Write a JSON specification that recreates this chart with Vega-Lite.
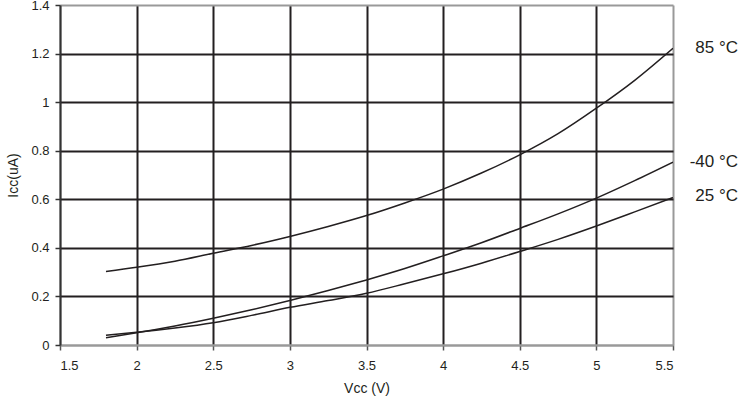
{
  "$schema": "https://vega.github.io/schema/vega-lite/v6.json",
  "autosize": "none",
  "width": 613,
  "height": 340,
  "padding": {"left": 60, "top": 5, "right": 68, "bottom": 59},
  "background": "white",
  "config": {
    "font": "Liberation Sans",
    "view": {"stroke": null}
  },
  "datasets": {
    "curves": [
      {"series": "85", "v": 1.8, "i": 0.303}, {"series": "85", "v": 2.0, "i": 0.32}, {"series": "85", "v": 2.25, "i": 0.345}, {"series": "85", "v": 2.5, "i": 0.378}, {"series": "85", "v": 2.75, "i": 0.41}, {"series": "85", "v": 3.0, "i": 0.447}, {"series": "85", "v": 3.25, "i": 0.488}, {"series": "85", "v": 3.5, "i": 0.533}, {"series": "85", "v": 3.75, "i": 0.585}, {"series": "85", "v": 4.0, "i": 0.642}, {"series": "85", "v": 4.25, "i": 0.708}, {"series": "85", "v": 4.5, "i": 0.783}, {"series": "85", "v": 4.75, "i": 0.87}, {"series": "85", "v": 5.0, "i": 0.975}, {"series": "85", "v": 5.25, "i": 1.09}, {"series": "85", "v": 5.5, "i": 1.222},
      {"series": "-40", "v": 1.8, "i": 0.03}, {"series": "-40", "v": 2.0, "i": 0.05}, {"series": "-40", "v": 2.25, "i": 0.078}, {"series": "-40", "v": 2.5, "i": 0.11}, {"series": "-40", "v": 2.75, "i": 0.145}, {"series": "-40", "v": 3.0, "i": 0.183}, {"series": "-40", "v": 3.25, "i": 0.224}, {"series": "-40", "v": 3.5, "i": 0.268}, {"series": "-40", "v": 3.75, "i": 0.315}, {"series": "-40", "v": 4.0, "i": 0.367}, {"series": "-40", "v": 4.25, "i": 0.421}, {"series": "-40", "v": 4.5, "i": 0.48}, {"series": "-40", "v": 4.75, "i": 0.54}, {"series": "-40", "v": 5.0, "i": 0.605}, {"series": "-40", "v": 5.25, "i": 0.677}, {"series": "-40", "v": 5.5, "i": 0.753},
      {"series": "25", "v": 1.8, "i": 0.04}, {"series": "25", "v": 2.0, "i": 0.052}, {"series": "25", "v": 2.25, "i": 0.07}, {"series": "25", "v": 2.5, "i": 0.092}, {"series": "25", "v": 2.75, "i": 0.122}, {"series": "25", "v": 3.0, "i": 0.155}, {"series": "25", "v": 3.25, "i": 0.183}, {"series": "25", "v": 3.5, "i": 0.213}, {"series": "25", "v": 3.75, "i": 0.252}, {"series": "25", "v": 4.0, "i": 0.293}, {"series": "25", "v": 4.25, "i": 0.337}, {"series": "25", "v": 4.5, "i": 0.385}, {"series": "25", "v": 4.75, "i": 0.435}, {"series": "25", "v": 5.0, "i": 0.49}, {"series": "25", "v": 5.25, "i": 0.548}, {"series": "25", "v": 5.5, "i": 0.607}
    ],
    "labels": [
      {"label": "85 °C", "v": 5.5, "i": 1.222},
      {"label": "-40 °C", "v": 5.5, "i": 0.753},
      {"label": "25 °C", "v": 5.5, "i": 0.612}
    ]
  },
  "layer": [
    {
      "data": {"name": "curves"},
      "mark": {"type": "line", "color": "#231f20", "strokeWidth": 1.5, "interpolate": "monotone", "clip": true},
      "encoding": {
        "x": {
          "field": "v", "type": "quantitative",
          "scale": {"domain": [1.5, 5.5], "nice": false, "zero": false},
          "axis": {
            "values": [1.5, 2, 2.5, 3, 3.5, 4, 4.5, 5, 5.5],
            "format": "~g",
            "title": "Vᴄᴄ (V)",
            "titleFont": "Liberation Sans",
            "titleFontSize": 14,
            "titleFontWeight": "normal",
            "titleColor": "#231f20",
            "titlePadding": 9,
            "labelFontSize": 13,
            "labelColor": "#231f20",
            "labelPadding": 9,
            "tickSize": 5,
            "tickColor": "#555555",
            "tickWidth": 1.5,
            "domainColor": "#999999",
            "domainWidth": 2,
            "grid": true,
            "gridColor": {"condition": {"test": "datum.value == 1.5 || datum.value == 5.5", "value": "#999999"}, "value": "#231f20"},
            "gridWidth": 2,
            "gridOpacity": 1
          }
        },
        "y": {
          "field": "i", "type": "quantitative",
          "scale": {"domain": [0, 1.4], "nice": false},
          "axis": {
            "values": [0, 0.2, 0.4, 0.6, 0.8, 1, 1.2, 1.4],
            "format": "~g",
            "title": "Iᴄᴄ(uA)",
            "titleFont": "Liberation Sans",
            "titleFontSize": 14,
            "titleFontWeight": "normal",
            "titleColor": "#231f20",
            "titlePadding": 10,
            "labelFontSize": 13,
            "labelColor": "#231f20",
            "labelPadding": 6,
            "tickSize": 5,
            "tickColor": "#333333",
            "tickWidth": 1.5,
            "domainColor": "#333333",
            "domainWidth": 2,
            "grid": true,
            "gridColor": {"condition": {"test": "datum.value == 0 || datum.value == 1.4", "value": "#999999"}, "value": "#231f20"},
            "gridWidth": 2,
            "gridOpacity": 1
          }
        },
        "detail": {"field": "series", "type": "nominal"}
      }
    },
    {
      "data": {"name": "labels"},
      "mark": {"type": "text", "align": "right", "baseline": "middle", "dx": 65, "fontSize": 17, "color": "#231f20", "font": "Liberation Sans", "clip": false},
      "encoding": {
        "x": {"field": "v", "type": "quantitative"},
        "y": {"field": "i", "type": "quantitative"},
        "text": {"field": "label", "type": "nominal"}
      }
    }
  ]
}
